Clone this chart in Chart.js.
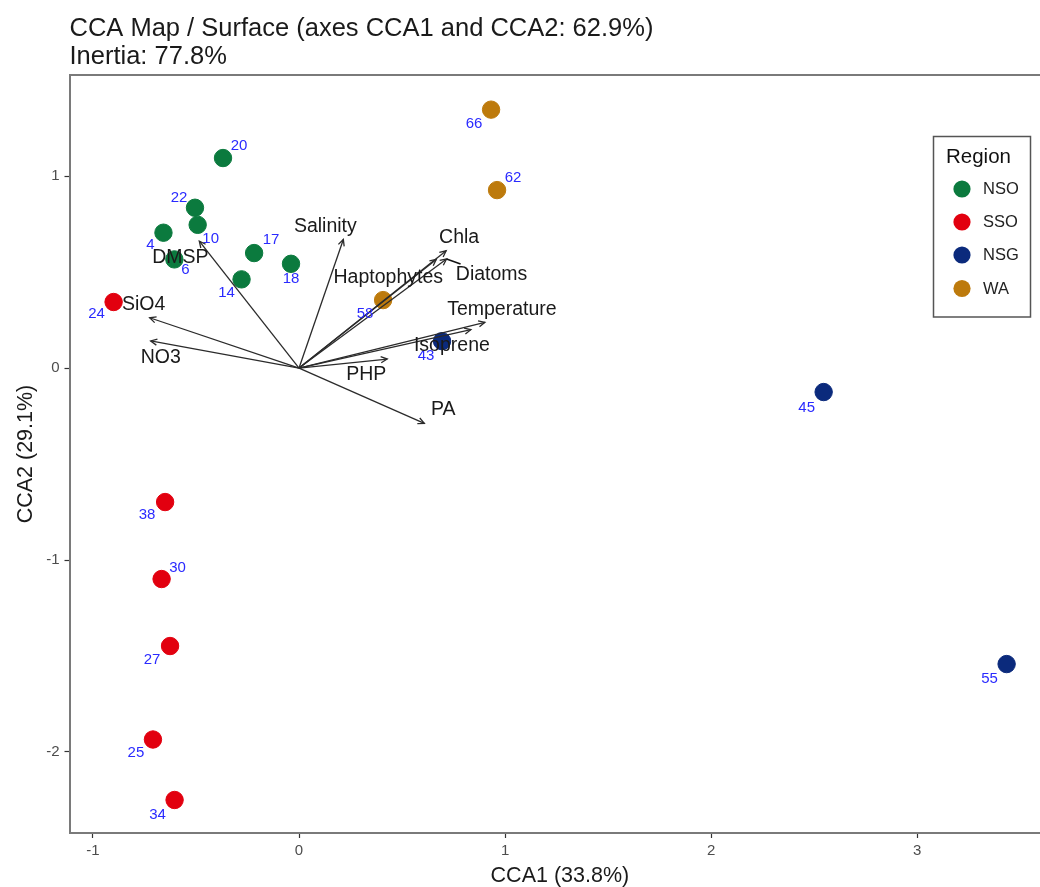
<!DOCTYPE html>
<html>
<head>
<meta charset="utf-8">
<title>CCA Map</title>
<script src="https://cdn.jsdelivr.net/npm/chart.js@4"></script>
<style>
  html, body { margin: 0; padding: 0; background: #fff; overflow: hidden; }
  #wrap { width: 1040px; height: 887px; overflow: hidden; }
  canvas { display: block; }
</style>
</head>
<body>
<!-- canvas is wider than the picture: the panel runs past the right edge, and Chart.js keeps ~10px for point overflow -->
<div id="wrap"><canvas id="ccaChart" width="1060" height="887"></canvas></div>
<script>
// site scores
const nsoSites = ["20", "22", "10", "4", "6", "17", "14", "18"];
const nsoX = [-0.369, -0.505, -0.492, -0.658, -0.605, -0.218, -0.279, -0.039];
const nsoY = [1.094, 0.835, 0.746, 0.705, 0.566, 0.599, 0.462, 0.543];

const ssoSites = ["24", "38", "30", "27", "25", "34"];
const ssoX = [-0.9, -0.65, -0.667, -0.626, -0.709, -0.604];
const ssoY = [0.344, -0.698, -1.099, -1.448, -1.935, -2.25];

const nsgSites = ["43", "45", "55"];
const nsgX = [0.694, 2.546, 3.434];
const nsgY = [0.14, -0.125, -1.542];

const waSites = ["66", "62", "58"];
const waX = [0.932, 0.961, 0.408];
const waY = [1.346, 0.927, 0.354];

// environmental vectors
const varNames = ["DMSP", "SiO4", "NO3", "Salinity", "Chla", "Haptophytes", "Diatoms", "Temperature", "Isoprene", "PHP", "PA"];
const varX = [-0.484, -0.725, -0.72, 0.215, 0.714, 0.666, 0.716, 0.902, 0.834, 0.428, 0.608];
const varY = [0.661, 0.262, 0.141, 0.67, 0.611, 0.566, 0.568, 0.238, 0.2, 0.047, -0.288];

const xTicks = [-1, 0, 1, 2, 3];
const yTicks = [-2, -1, 0, 1];

// label placement, pixels from the point or arrow tip
const siteOffsets = {
  "20": [16, -12], "22": [-16, -10], "10": [13, 14], "4": [-13, 12], "6": [11, 10],
  "17": [17, -13], "14": [-15, 14], "18": [0, 15], "24": [-17, 12], "38": [-18, 13],
  "30": [16, -11], "27": [-18, 14], "25": [-17, 13], "34": [-17, 15], "43": [-16, 15],
  "45": [-17, 16], "55": [-17, 15], "66": [-17, 14], "62": [16, -12], "58": [-18, 14]
};
const varOffsets = {
  DMSP: [-19, 16], SiO4: [-6, -13], NO3: [10, 17], Salinity: [-18, -13], Chla: [13, -13],
  Haptophytes: [-48, 18], Diatoms: [45, 16], Temperature: [17, -13], Isoprene: [-19, 16],
  PHP: [-21, 16], PA: [19, -14]
};

const FONT = "'Liberation Sans', Arial, sans-serif";

function siteSet(name, color, sites, xs, ys) {
  return {
    label: name,
    sites: sites,
    data: xs.map((x, i) => ({ x: x, y: ys[i] })),
    backgroundColor: color,
    borderColor: color,
    pointRadius: 8.7,
    pointHoverRadius: 8.7,
    order: 2
  };
}

const regionSets = [
  siteSet("NSO", "#0b7a3e", nsoSites, nsoX, nsoY),
  siteSet("SSO", "#e2000f", ssoSites, ssoX, ssoY),
  siteSet("NSG", "#0b2a7c", nsgSites, nsgX, nsgY),
  siteSet("WA", "#bd7a0c", waSites, waX, waY)
];

const arrowSets = varNames.map((name, i) => ({
  label: name,
  isArrow: true,
  data: [{ x: 0, y: 0 }, { x: varX[i], y: varY[i] }],
  showLine: true,
  borderColor: "#2b2b2b",
  borderWidth: 1.3,
  pointRadius: 0,
  order: 1
}));

const ccaLabels = {
  id: "ccaLabels",
  afterDatasetsDraw(chart) {
    const ctx = chart.ctx;
    ctx.save();
    ctx.textAlign = "center";
    ctx.textBaseline = "middle";

    chart.data.datasets.forEach((ds, di) => {
      const pts = chart.getDatasetMeta(di).data;
      if (ds.isArrow) {
        const tip = pts[1], from = pts[0];
        const a = Math.atan2(tip.y - from.y, tip.x - from.x);
        ctx.strokeStyle = ds.borderColor;
        ctx.lineWidth = 1.3;
        ctx.beginPath();
        ctx.moveTo(tip.x - 7 * Math.cos(a - 0.45), tip.y - 7 * Math.sin(a - 0.45));
        ctx.lineTo(tip.x, tip.y);
        ctx.lineTo(tip.x - 7 * Math.cos(a + 0.45), tip.y - 7 * Math.sin(a + 0.45));
        ctx.stroke();
        if (ds.label === "Diatoms") {
          // repel segment
          ctx.lineWidth = 1.5;
          ctx.strokeStyle = "#111";
          ctx.beginPath();
          ctx.moveTo(tip.x, tip.y);
          ctx.lineTo(tip.x + 14, tip.y + 5);
          ctx.stroke();
        }
        const off = varOffsets[ds.label];
        ctx.font = "19.5px " + FONT;
        ctx.fillStyle = "#1a1a1a";
        ctx.fillText(ds.label, tip.x + off[0], tip.y + off[1]);
      } else {
        ctx.font = "15px " + FONT;
        ctx.fillStyle = "#2a2aff";
        ds.sites.forEach((s, i) => {
          const off = siteOffsets[s];
          ctx.fillText(s, pts[i].x + off[0], pts[i].y + off[1]);
        });
      }
    });

    // panel edge
    const area = chart.chartArea;
    ctx.strokeStyle = "#7a7a7a";
    ctx.lineWidth = 2;
    ctx.beginPath();
    ctx.moveTo(area.left, area.top);
    ctx.lineTo(area.right, area.top);
    ctx.stroke();

    // legend box
    ctx.fillStyle = "#fff";
    ctx.strokeStyle = "#555";
    ctx.lineWidth = 1.5;
    ctx.fillRect(933.5, 136.5, 97, 180.5);
    ctx.strokeRect(933.5, 136.5, 97, 180.5);
    ctx.textAlign = "left";
    ctx.fillStyle = "#111";
    ctx.font = "20.5px " + FONT;
    ctx.fillText("Region", 946, 157);
    const rowY = [189, 222, 255, 288.5];
    regionSets.forEach((ds, i) => {
      ctx.fillStyle = ds.backgroundColor;
      ctx.beginPath();
      ctx.arc(962, rowY[i], 8.6, 0, Math.PI * 2);
      ctx.fill();
      ctx.fillStyle = "#222";
      ctx.font = "16.5px " + FONT;
      ctx.fillText(ds.label, 983, rowY[i] + 0.5);
    });
    ctx.restore();
  }
};

new Chart(document.getElementById("ccaChart"), {
  type: "scatter",
  data: { datasets: regionSets.concat(arrowSets) },
  options: {
    responsive: false,
    animation: false,
    layout: { padding: 0 },
    plugins: {
      legend: { display: false },
      tooltip: { enabled: false },
      title: {
        display: true,
        align: "start",
        fullSize: false,
        text: ["CCA Map / Surface (axes CCA1 and CCA2: 62.9%)", "Inertia: 77.8%"],
        color: "#1a1a1a",
        font: { family: FONT, size: 25.5, weight: "normal", lineHeight: 1.1 },
        padding: { top: 15, bottom: 4 }
      }
    },
    scales: {
      x: {
        type: "linear",
        min: -1.114,
        max: 3.646,
        afterBuildTicks(scale) { scale.ticks = xTicks.map(v => ({ value: v })); },
        afterFit(scale) { scale.height = 54; },
        grid: { drawOnChartArea: false, drawTicks: true, tickLength: 5, color: "#333", tickWidth: 1.2 },
        border: { color: "#7a7a7a", width: 2 },
        ticks: { color: "#4d4d4d", font: { family: FONT, size: 15 }, maxRotation: 0, padding: 4 },
        title: { display: true, text: "CCA1 (33.8%)", color: "#1a1a1a", font: { family: FONT, size: 21.5, lineHeight: 1 }, padding: { top: 3, bottom: 0 } }
      },
      y: {
        type: "linear",
        min: -2.422,
        max: 1.526,
        afterBuildTicks(scale) { scale.ticks = yTicks.map(v => ({ value: v })); },
        afterFit(scale) { scale.width = 69.5; },
        grid: { drawOnChartArea: false, drawTicks: true, tickLength: 5, color: "#333", tickWidth: 1.2 },
        border: { color: "#7a7a7a", width: 2 },
        ticks: { color: "#4d4d4d", font: { family: FONT, size: 15 }, padding: 5 },
        title: { display: true, text: "CCA2 (29.1%)", color: "#1a1a1a", font: { family: FONT, size: 21.5 }, padding: { top: 13, bottom: 0 } }
      }
    }
  },
  plugins: [ccaLabels]
});
</script>
</body>
</html>
